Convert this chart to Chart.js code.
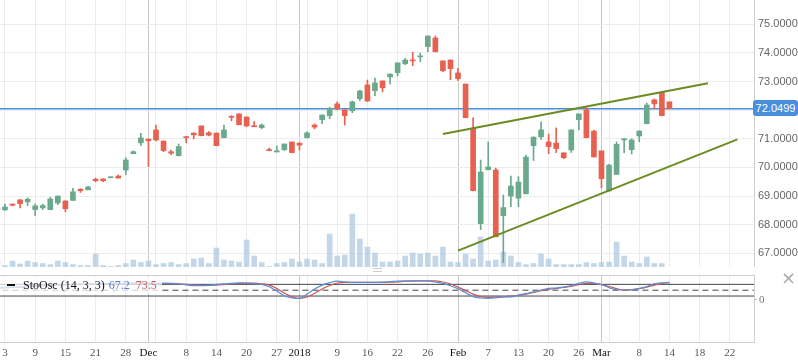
<!DOCTYPE html>
<html>
<head>
<meta charset="utf-8">
<script src="https://cdn.jsdelivr.net/npm/chart.js@4.4.1/dist/chart.umd.min.js"></script>
<style>
    body { margin: 0; background: #fff; overflow: hidden; }
    #wrap { position: relative; width: 798px; height: 363px; }
    #price-chart { position: absolute; left: 0; top: 0; }
    #osc-chart { position: absolute; left: 0; top: 270px; }
    #last-price {
        position: absolute; left: 753px; top: 100px; width: 45px; height: 16px;
        background: #4a8fdc; border-radius: 3px; color: #fff;
        font: 11px "Liberation Sans", Arial, sans-serif; line-height: 16px; text-align: center;
    }
    #osc-legend {
        position: absolute; left: 0; top: 277px; width: 162px; height: 17px;
        background: rgba(255, 255, 255, 0.72);
        font: 12px "Liberation Serif", "Times New Roman", serif; line-height: 17px; color: #111;
        white-space: nowrap;
    }
    #osc-legend .dash { display: inline-block; width: 8px; height: 2px; background: #111; margin: 0 8px 3px 7px; }
    #osc-legend .k { color: #4f7fc4; margin-left: 4px; }
    #osc-legend .d { color: #c9575a; margin-left: 6px; }
    #close-btn {
        position: absolute; left: 781px; top: 267px; color: #aaa;
        font: 18px "DejaVu Sans", sans-serif;
    }
    #handle {
        position: absolute; left: 373px; top: 268px; width: 9px; height: 2px;
        border-top: 1px solid #ccc; border-bottom: 1px solid #ccc;
    }
</style>
</head>
<body>
<div id="wrap">
    <canvas id="price-chart" width="798" height="267"></canvas>
    <canvas id="osc-chart" width="798" height="93"></canvas>
    <div id="last-price">72.0499</div>
    <div id="osc-legend"><span class="dash"></span>StoOsc (14, 3, 3)<span class="k">67.2</span><span class="d">73.5</span></div>
    <div id="close-btn">×</div>
    <div id="handle"></div>
</div>
<script>
/* trading days, index = position on the x axis */
const dates = [
    "Nov 2", "Nov 3", "Nov 6", "Nov 7", "Nov 8", "Nov 9", "Nov 10", "Nov 13", "Nov 14", "Nov 15",
    "Nov 16", "Nov 17", "Nov 20", "Nov 21", "Nov 22", "Nov 24", "Nov 27", "Nov 28", "Nov 29", "Nov 30",
    "Dec 1", "Dec 4", "Dec 5", "Dec 6", "Dec 7", "Dec 8", "Dec 11", "Dec 12", "Dec 13", "Dec 14",
    "Dec 15", "Dec 18", "Dec 19", "Dec 20", "Dec 21", "Dec 22", "Dec 26", "Dec 27", "Dec 28", "Dec 29",
    "Jan 2", "Jan 3", "Jan 4", "Jan 5", "Jan 8", "Jan 9", "Jan 10", "Jan 11", "Jan 12", "Jan 16",
    "Jan 17", "Jan 18", "Jan 19", "Jan 22", "Jan 23", "Jan 24", "Jan 25", "Jan 26", "Jan 29", "Jan 30",
    "Jan 31", "Feb 1", "Feb 2", "Feb 5", "Feb 6", "Feb 7", "Feb 8", "Feb 9", "Feb 12", "Feb 13",
    "Feb 14", "Feb 15", "Feb 16", "Feb 20", "Feb 21", "Feb 22", "Feb 23", "Feb 26", "Feb 27", "Feb 28",
    "Mar 1", "Mar 2", "Mar 5", "Mar 6", "Mar 7", "Mar 8", "Mar 9", "Mar 12", "Mar 13", "Mar 14"
];

const opens = [
    68.58, 68.52, 68.72, 68.87, 68.80, 68.53, 68.59, 68.53, 68.76, 68.83,
    68.85, 69.24, 69.22, 69.59, 69.60, 69.64, 69.70, 69.91, 70.48, 70.86,
    70.99, 71.31, 70.92, 70.55, 70.41, 71.07, 71.20, 71.45, 71.21, 71.20,
    71.04, 71.77, 71.87, 71.76, 71.46, 71.39, 70.62, 70.54, 70.62, 70.89,
    70.85, 71.04, 71.48, 71.67, 71.81, 72.22, 72.01, 71.98, 72.40, 72.88,
    72.68, 73.02, 73.16, 73.31, 73.62, 73.75, 73.86, 74.22, 74.52, 73.72,
    73.75, 73.30, 72.91, 71.37, 68.04, 69.92, 69.91, 68.32, 69.00, 68.93,
    69.08, 70.76, 71.07, 70.89, 70.85, 70.51, 70.61, 71.67, 72.01, 71.27,
    70.58, 69.18, 69.76, 70.96, 70.62, 71.10, 71.53, 72.36, 72.61, 72.29
];
const highs = [
    68.62, 68.72, 68.73, 68.88, 68.94, 68.73, 68.72, 68.96, 69.01, 68.84,
    69.27, 69.26, 69.35, 69.63, 69.60, 69.67, 69.74, 70.34, 70.58, 71.19,
    71.00, 71.48, 70.93, 70.61, 70.82, 71.08, 71.21, 71.45, 71.25, 71.21,
    71.48, 71.81, 71.87, 71.77, 71.60, 71.52, 70.68, 70.75, 70.82, 70.89,
    70.86, 71.24, 71.52, 71.84, 72.10, 72.29, 72.01, 72.32, 72.70, 73.05,
    73.12, 73.02, 73.27, 73.65, 73.81, 74.02, 73.99, 74.59, 74.59, 73.72,
    73.76, 73.46, 72.92, 71.73, 70.26, 70.89, 69.98, 69.04, 69.70, 69.68,
    70.43, 71.07, 71.59, 71.17, 71.38, 70.51, 71.31, 71.87, 72.12, 71.30,
    70.58, 70.11, 70.89, 71.01, 71.00, 71.28, 72.25, 72.39, 72.63, 72.29
];
const lows = [
    68.50, 68.50, 68.66, 68.59, 68.67, 68.32, 68.53, 68.52, 68.70, 68.45,
    68.85, 69.13, 69.22, 69.50, 69.50, 69.64, 69.63, 69.75, 70.48, 70.76,
    70.03, 70.93, 70.55, 70.45, 70.40, 70.86, 71.00, 71.10, 71.10, 70.75,
    71.03, 71.63, 71.49, 71.42, 71.42, 71.35, 70.58, 70.54, 70.59, 70.51,
    70.61, 71.03, 71.35, 71.53, 71.70, 72.01, 71.48, 71.91, 72.33, 72.30,
    72.51, 72.64, 72.92, 73.19, 73.59, 73.55, 73.69, 74.04, 74.03, 73.34,
    73.06, 73.03, 71.73, 69.18, 67.83, 69.92, 67.58, 66.68, 68.63, 68.63,
    69.08, 70.24, 70.98, 70.48, 70.52, 70.31, 70.52, 71.31, 71.03, 70.36,
    69.29, 69.17, 69.75, 70.52, 70.47, 70.90, 71.52, 72.05, 71.80, 72.05
];
const closes = [
    68.53, 68.62, 68.68, 68.74, 68.89, 68.66, 68.67, 68.90, 69.00, 68.56,
    69.15, 69.19, 69.32, 69.54, 69.54, 69.67, 69.63, 70.26, 70.55, 71.03,
    70.93, 70.96, 70.59, 70.50, 70.73, 71.04, 71.14, 71.11, 71.13, 70.76,
    71.31, 71.75, 71.49, 71.45, 71.42, 71.48, 70.59, 70.58, 70.82, 70.52,
    70.78, 71.21, 71.41, 71.83, 72.07, 72.04, 71.81, 72.29, 72.67, 72.32,
    72.95, 72.78, 73.26, 73.65, 73.75, 73.72, 73.89, 74.59, 74.04, 73.38,
    73.45, 73.10, 71.74, 69.19, 69.84, 70.02, 67.58, 68.60, 69.35, 69.49,
    70.36, 71.06, 71.31, 70.73, 70.66, 70.34, 71.31, 71.87, 71.04, 70.37,
    69.61, 70.08, 70.81, 71.00, 70.96, 71.27, 72.18, 72.22, 71.81, 72.05
];
const volumes = [
    800, 150, 600, 300, 600, 450, 350, 250, 600, 450,
    250, 150, 150, 1300, 150, 50, 150, 350, 700, 450,
    600, 250, 350, 450, 250, 350, 800, 900, 350, 1900,
    700, 600, 500, 2700, 1100, 450, 50, 350, 450, 800,
    500, 800, 700, 350, 3300, 1100, 1200, 5300, 2800, 2000,
    1400, 500, 500, 600, 1100, 1400, 1300, 1400, 1100, 2000,
    500, 450, 1300, 800, 3000, 600, 700, 1500, 1100, 450,
    250, 350, 1300, 800, 250, 250, 250, 250, 450, 350,
    450, 500, 2500, 1100, 500, 350, 1000, 350, 350, null
];

/* stochastic oscillator (14, 3, 3) */
const stochK = [
    62, 64, 66, 68, 70, 72, 74, 76, 78, 79,
    80, 81, 82, 83, 84, 84, 85, 85, 86, 86,
    86, 86, 85, 84, 82, 77, 73, 73, 75, 80,
    82, 85, 88, 87, 83, 80, 68, 46, 20, 10,
    8, 30, 56, 76, 89, 97, 93, 90, 90, 90,
    90, 91, 94, 97, 98, 98, 98, 98, 92, 85,
    73, 57, 37, 17, 10, 8, 11, 16, 16, 25,
    32, 42, 51, 59, 61, 66, 74, 85, 93, 87,
    78, 63, 52, 51, 52, 59, 68, 83, 88, 90
];
const stochD = [
    60, 62, 64, 66, 68, 70, 72, 74, 76, 78,
    79, 80, 81, 82, 83, 83, 84, 84, 85, 85,
    85, 85, 85, 85, 83, 80, 77, 75, 74, 76,
    79, 82, 85, 86, 86, 83, 76, 59, 35, 16,
    8, 15, 34, 56, 74, 87, 90, 90, 90, 90,
    90, 90, 91, 93, 96, 97, 98, 98, 98, 92,
    82, 66, 48, 30, 17, 13, 15, 16, 20, 24,
    30, 38, 47, 54, 59, 64, 69, 78, 85, 85,
    79, 69, 58, 51, 53, 58, 66, 76, 84, 88
];
const stochLevels = [80, 50, 20];

/* axis ticks */
const tickIndex = [1, 5, 9, 13, 17, 20, 21, 25, 29, 33, 37, 40, 41, 45, 49, 53, 57, 61, 65, 69, 73, 77, 80, 81, 85, 89, 93, 97];
const tickText = ["3", "9", "15", "21", "28", "Dec", "", "8", "14", "20", "27", "2018", "", "9", "16", "22", "26", "Feb", "7", "13", "20", "26", "Mar", "", "8", "14", "18", "22"];
const monthIndex = [20, 40, 61, 80];
const priceTicks = [67, 68, 69, 70, 71, 72, 73, 74, 75];
const oscTicks = [0];

const lastPrice = 72.0499;
const upperTrend = [[59, 71.17], [94.1, 72.94]];
const lowerTrend = [[61, 67.10], [98, 70.98]];

const X_MIN = 0.34;
const X_MAX = 100.2;
const GREEN = "#6aa98b";
const RED = "#e8604f";

const candleColors = closes.map((c, i) => c >= opens[i] ? GREEN : RED);

function gridColor(c) {
    if (c.tick && monthIndex.includes(c.tick.value)) {
        return "#c9c9c9";
    }
    return "#ececec";
}

function fixedX(scale) {
    scale.ticks = tickIndex.map(v => ({ value: v }));
}

/*
    main panel: candles, volume, trend lines
*/
const priceCtx = document.getElementById("price-chart").getContext("2d");

new Chart(priceCtx, {
    type: "bar",
    data: {
        datasets: [
            {
                type: "line",
                data: [{ x: X_MIN - 1, y: lastPrice }, { x: X_MAX + 1, y: lastPrice }],
                borderColor: "#4a8fdc",
                borderWidth: 1.5,
                pointRadius: 0,
                order: 5
            },
            {
                type: "line",
                data: upperTrend.map(p => ({ x: p[0], y: p[1] })),
                borderColor: "#6a8c22",
                borderWidth: 2,
                pointRadius: 0,
                order: 0
            },
            {
                type: "line",
                data: lowerTrend.map(p => ({ x: p[0], y: p[1] })),
                borderColor: "#6a8c22",
                borderWidth: 2,
                pointRadius: 0,
                order: 0
            },
            {
                data: opens.map((o, i) => ({ x: i, y: [o, closes[i]] })),
                backgroundColor: candleColors,
                barThickness: 5,
                minBarLength: 1,
                grouped: false,
                order: 1
            },
            {
                data: lows.map((l, i) => ({ x: i, y: [l, highs[i]] })),
                backgroundColor: candleColors,
                barThickness: 1,
                grouped: false,
                order: 2
            },
            {
                yAxisID: "yv",
                data: volumes.map((v, i) => ({ x: i, y: v })).filter(p => p.y !== null),
                backgroundColor: "rgba(176, 201, 226, 0.75)",
                barThickness: 5,
                grouped: false,
                order: 10
            }
        ]
    },
    options: {
        responsive: false,
        animation: false,
        layout: { padding: 0 },
        plugins: {
            legend: { display: false },
            tooltip: { enabled: false }
        },
        scales: {
            x: {
                type: "linear",
                offset: false,
                min: X_MIN,
                max: X_MAX,
                afterBuildTicks: fixedX,
                ticks: { display: false },
                grid: { color: gridColor, drawTicks: false, offset: false },
                border: { color: "#cfcfcf" },
                afterFit: s => { s.height = 0; s.paddingLeft = 0; s.paddingRight = 0; }
            },
            y: {
                position: "right",
                min: 66.526,
                max: 75.845,
                afterBuildTicks: s => { s.ticks = priceTicks.map(v => ({ value: v })); },
                ticks: {
                    callback: v => v.toFixed(4),
                    color: "#666",
                    font: { family: "Liberation Sans", size: 11 },
                    padding: 4
                },
                grid: { color: "#ececec", drawTicks: false },
                border: { color: "#cfcfcf" },
                afterFit: s => { s.width = 44; s.paddingTop = 0; s.paddingBottom = 0; }
            },
            yv: {
                display: false,
                min: 0,
                max: 26700
            }
        }
    }
});

/*
    oscillator panel
*/
const panelTop = {
    id: "panelTop",
    afterDraw(chart) {
        const a = chart.chartArea;
        const c = chart.ctx;
        c.save();
        c.strokeStyle = "#cfcfcf";
        c.lineWidth = 1;
        c.beginPath();
        c.moveTo(a.left, a.top + 0.5);
        c.lineTo(a.right, a.top + 0.5);
        c.stroke();
        c.restore();
    }
};

const oscCtx = document.getElementById("osc-chart").getContext("2d");

const levelSets = stochLevels.map(lv => ({
    data: [{ x: X_MIN - 1, y: lv }, { x: X_MAX + 1, y: lv }],
    borderColor: "#444",
    borderWidth: 1,
    borderDash: lv === 50 ? [6, 4] : [],
    pointRadius: 0,
    order: 5
}));

new Chart(oscCtx, {
    type: "line",
    data: {
        datasets: [
            ...levelSets,
            {
                data: stochD.map((v, i) => ({ x: i, y: v })),
                borderColor: "#c9575a",
                borderWidth: 1.2,
                pointRadius: 0,
                cubicInterpolationMode: "monotone",
                order: 2
            },
            {
                data: stochK.map((v, i) => ({ x: i, y: v })),
                borderColor: "#5b8ed6",
                borderWidth: 1.2,
                pointRadius: 0,
                cubicInterpolationMode: "monotone",
                order: 1
            }
        ]
    },
    options: {
        responsive: false,
        animation: false,
        layout: { padding: { top: 5 } },
        plugins: {
            legend: { display: false },
            tooltip: { enabled: false }
        },
        scales: {
            x: {
                type: "linear",
                offset: false,
                min: X_MIN,
                max: X_MAX,
                afterBuildTicks: fixedX,
                ticks: {
                    autoSkip: false,
                    maxRotation: 0,
                    padding: 5,
                    callback: (v) => tickText[tickIndex.indexOf(v)],
                    color: c => monthIndex.includes(c.tick.value) ? "#111" : "#555",
                    font: { family: "Liberation Serif", size: 11 }
                },
                grid: { color: gridColor, drawTicks: false },
                border: { color: "#cfcfcf" },
                afterFit: s => { s.height = 21; s.paddingLeft = 0; s.paddingRight = 0; }
            },
            y: {
                position: "right",
                min: -216,
                max: 128,
                afterBuildTicks: s => { s.ticks = oscTicks.map(v => ({ value: v })); },
                ticks: {
                    color: "#777",
                    font: { family: "Liberation Serif", size: 11 },
                    padding: 2
                },
                grid: { drawOnChartArea: false, tickLength: 3, color: "#bbb" },
                border: { color: "#cfcfcf" },
                afterFit: s => { s.width = 44; s.paddingTop = 0; s.paddingBottom = 0; }
            }
        }
    },
    plugins: [panelTop]
});
</script>
</body>
</html>
